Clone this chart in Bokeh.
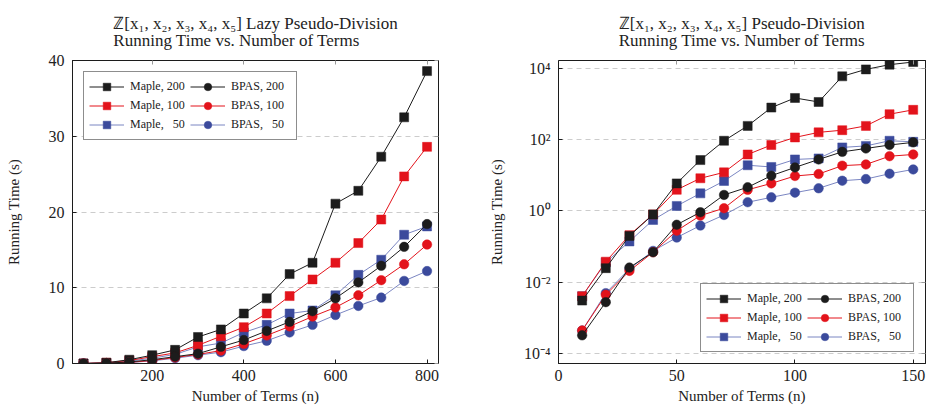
from bokeh.plotting import figure
from bokeh.models import (Legend, LegendItem, LinearAxis, LogAxis, FixedTicker,
                          Title, Range1d, CustomJSTickFormatter)
from bokeh.layouts import row
from bokeh.embed import file_html
from bokeh.resources import INLINE

# ---------------- data: left (lazy pseudo-division) ----------------
left_terms = [50, 100, 150, 200, 250, 300, 350, 400, 450, 500, 550, 600, 650, 700, 750, 800]
left_maple200 = [0.0, 0.1, 0.5, 1.1, 1.8, 3.5, 4.5, 6.6, 8.6, 11.8, 13.3, 21.1, 22.8, 27.3, 32.5, 38.6]
left_maple100 = [0.0, 0.1, 0.4, 0.9, 1.4, 2.4, 3.6, 4.8, 6.6, 8.9, 11.1, 13.3, 15.9, 19.0, 24.7, 28.6]
left_maple50 = [0.0, 0.05, 0.3, 0.7, 1.2, 2.2, 2.7, 4.1, 5.1, 6.6, 7.0, 9.0, 11.7, 13.7, 17.0, 18.1]
left_bpas200 = [0.0, 0.05, 0.2, 0.5, 0.9, 1.3, 2.2, 3.1, 4.3, 5.5, 6.9, 8.6, 10.7, 12.9, 15.4, 18.4]
left_bpas100 = [0.0, 0.05, 0.15, 0.4, 0.8, 1.2, 1.7, 2.6, 3.7, 4.9, 6.2, 7.4, 9.0, 11.0, 13.1, 15.7]
left_bpas50 = [0.0, 0.04, 0.12, 0.35, 0.7, 1.1, 1.5, 2.3, 3.0, 4.1, 5.1, 6.4, 7.6, 8.7, 10.9, 12.2]

# ---------------- data: right (pseudo-division, log scale) ----------------
right_terms = [10, 20, 30, 40, 50, 60, 70, 80, 90, 100, 110, 120, 130, 140, 150]
right_maple200 = [0.0031, 0.025, 0.2, 0.8, 5.9, 26.5, 92, 240, 780, 1450, 1120, 5850, 9150, 12400, 14700]
right_maple100 = [0.0041, 0.038, 0.21, 0.8, 3.9, 8.2, 12, 38, 70, 114, 158, 182, 240, 510, 675]
right_maple50 = [0.0041, 0.036, 0.14, 0.56, 1.38, 3.1, 6.9, 19, 17, 27.6, 29.5, 60, 66, 92, 86]
right_bpas200 = [0.00033, 0.0028, 0.026, 0.07, 0.41, 0.92, 2.8, 4.6, 9.7, 16.5, 27.6, 45, 56, 70, 83]
right_bpas100 = [0.00045, 0.0045, 0.021, 0.07, 0.28, 0.74, 1.19, 3.9, 5.9, 9.5, 10.8, 18.5, 20, 34, 38]
right_bpas50 = [0.00045, 0.005, 0.024, 0.076, 0.18, 0.39, 0.77, 1.75, 2.4, 3.25, 4.3, 7.0, 7.8, 11, 14.5]

series_labels = ["Maple, 200", "Maple, 100", "Maple, \u200750", "BPAS, 200", "BPAS, 100", "BPAS, \u200750"]
left_ticks_x = [200, 400, 600, 800]
left_ticks_y = [0, 10, 20, 30, 40]
right_ticks_x = [0, 50, 100, 150]
right_ticks_y = [1e-4, 1e-2, 1, 1e2, 1e4]

FONT = "Liberation Serif"
BLACK = "#1c1c1c"
RED = "#e3131b"
BLUE = "#3b4a9c"
BLUE_LINE = "#7b86c2"
TXT = "#222222"


def style_axis(ax, ticks, show_labels=True, tick_color=BLACK):
    ax.ticker = FixedTicker(ticks=ticks)
    ax.major_tick_in = 4
    ax.major_tick_out = 0
    ax.minor_tick_in = 0
    ax.minor_tick_out = 0
    ax.major_tick_line_color = tick_color
    ax.axis_line_color = BLACK
    ax.major_label_text_font = FONT
    ax.major_label_text_color = TXT
    ax.axis_label_text_font = FONT
    ax.axis_label_text_font_style = "normal"
    ax.axis_label_text_color = TXT
    ax.axis_label_text_font_size = "15px"
    ax.major_label_text_font_size = "16px"
    if not show_labels:
        ax.formatter = CustomJSTickFormatter(code="return '';")
        ax.major_label_text_font_size = "0px"
        ax.major_label_standoff = 0


def build(terms, ys, x_range, y_range, log, title, xt, yt,
          legend_loc, borders, width):
    bl, br = borders
    kw = dict(y_axis_type="log") if log else {}
    p = figure(width=width, height=413, x_range=x_range, y_range=y_range,
               output_backend="svg", toolbar_location=None, title=None,
               min_border_left=bl, min_border_right=br, min_border_top=60,
               min_border_bottom=50, background_fill_color="white",
               border_fill_color="white", **kw)
    p.outline_line_color = BLACK
    p.xgrid.visible = False
    p.ygrid.grid_line_color = "#cccccc"
    p.ygrid.grid_line_dash = "5 4"
    p.ygrid.ticker = FixedTicker(ticks=yt)

    style_axis(p.xaxis[0], xt)
    style_axis(p.yaxis[0], yt)
    p.xaxis[0].axis_label = "Number of Terms (n)"
    p.yaxis[0].axis_label = "Running Time (s)"
    p.xaxis[0].major_label_standoff = 6
    p.xaxis[0].axis_label_standoff = 4
    p.yaxis[0].major_label_standoff = 8
    p.yaxis[0].axis_label_standoff = 24 if not log else 16
    if log:
        p.yaxis[0].formatter = CustomJSTickFormatter(code="""
            const e = Math.round(Math.log10(tick));
            const sup = {'-':'\u207b','0':'\u2070','1':'\u00b9','2':'\u00b2','3':'\u00b3','4':'\u2074','5':'\u2075','6':'\u2076','7':'\u2077','8':'\u2078','9':'\u2079'};
            return '10' + String(e).split('').map(c => sup[c]).join('');
        """)

    top = LinearAxis()
    style_axis(top, xt, show_labels=False, tick_color="#999999")
    p.add_layout(top, "above")
    right = LogAxis() if log else LinearAxis()
    style_axis(right, yt, show_labels=False, tick_color="#999999")
    p.add_layout(right, "right")

    colors = [BLACK, RED, BLUE, BLACK, RED, BLUE]
    lcolors = [BLACK, RED, BLUE_LINE, BLACK, RED, BLUE_LINE]
    markers = ["square"] * 3 + ["circle"] * 3
    sizes = [9, 9, 9, 9.5, 9.5, 9.5]
    order = [2, 1, 0, 5, 4, 3]
    rends = {}
    for i in order:
        lr = p.line(terms, ys[i], line_color=lcolors[i], line_width=1)
        sr = p.scatter(terms, ys[i], marker=markers[i], size=sizes[i],
                       fill_color=colors[i], line_color=colors[i], line_width=0.5)
        rends[i] = [lr, sr]
    items = [LegendItem(label=series_labels[i], renderers=rends[i]) for i in range(6)]
    leg = Legend(items=items, location=legend_loc, ncols=2,
                 glyph_width=35, glyph_height=19, label_height=19, label_width=60,
                 label_standoff=6, spacing=0, padding=5, margin=11,
                 label_text_font=FONT, label_text_font_size="12px",
                 label_text_color=TXT, border_line_color=BLACK, border_line_width=1,
                 background_fill_color="white", background_fill_alpha=1.0)
    p.add_layout(leg, "center")

    t = Title(text=title, align="center", text_font=FONT, text_font_size="17px",
              text_font_style="normal", text_color=TXT, text_line_height=0.9,
              standoff=20)
    p.add_layout(t, "above")
    return p


p1 = build(left_terms,
           [left_maple200, left_maple100, left_maple50, left_bpas200, left_bpas100, left_bpas50],
           Range1d(26, 825), Range1d(0, 40), False,
           "\u2124[x\u2081, x\u2082, x\u2083, x\u2084, x\u2085] Lazy Pseudo-Division\n"
           "Running Time vs. Number of Terms",
           left_ticks_x, left_ticks_y, "top_left", (72, 25), 463)

p2 = build(right_terms,
           [right_maple200, right_maple100, right_maple50, right_bpas200, right_bpas100, right_bpas50],
           Range1d(0, 155.2), Range1d(10 ** -4.27, 10 ** 4.21), True,
           "\u2124[x\u2081, x\u2082, x\u2083, x\u2084, x\u2085] Pseudo-Division\n"
           "Running Time vs. Number of Terms",
           right_ticks_x, right_ticks_y, "bottom_right", (95, 2), 464)

layout = row(p1, p2)
open("out.html", "w").write(file_html(layout, INLINE))
